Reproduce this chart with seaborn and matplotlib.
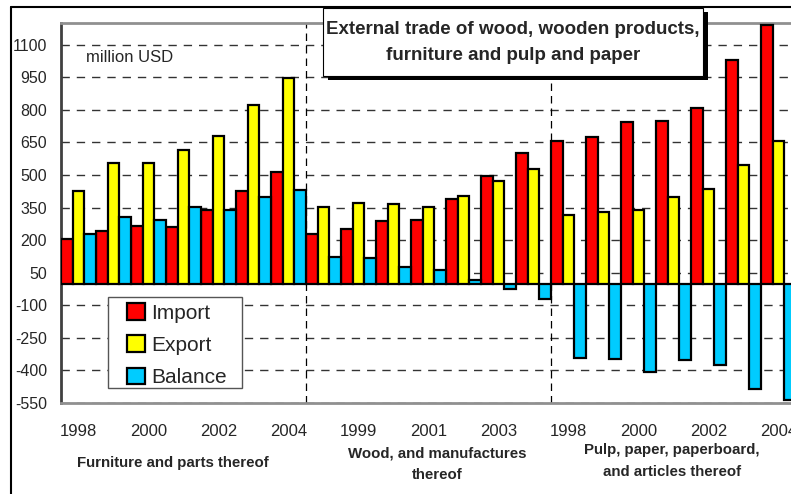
import matplotlib
matplotlib.use("Agg")
import matplotlib.pyplot as plt
from matplotlib.patches import Rectangle
from matplotlib.lines import Line2D
import seaborn as sns
import pandas as pd

# ---------------- data ----------------
groups = ["Furniture", "Wood", "Pulp"]
group_labels = ["Furniture and parts thereof",
                "Wood, and manufactures\nthereof",
                "Pulp, paper, paperboard,\nand articles thereof"]
years = [1998, 1999, 2000, 2001, 2002, 2003, 2004]
series = ["Import", "Export", "Balance"]

furn_import = [203, 243, 264, 261, 341, 425, 512]
furn_export = [427, 554, 557, 617, 680, 823, 947]
furn_balance = [226, 307, 292, 352, 337, 397, 432]

wood_import = [227, 251, 288, 291, 388, 495, 600]
wood_export = [351, 369, 365, 354, 403, 472, 529]
wood_balance = [122, 117, 77, 62, 15, -25, -73]

pulp_import = [657, 675, 743, 750, 808, 1031, 1192]
pulp_export = [318, 329, 341, 400, 434, 546, 657]
pulp_balance = [-341, -347, -405, -351, -374, -486, -537]

yticks = [-550, -400, -250, -100, 50, 200, 350, 500, 650, 800, 950, 1100]
colors = {"Import": "#FF0000", "Export": "#FFFF00", "Balance": "#00CCFF"}

# ---------------- build table ----------------
values = {
    "Furniture": (furn_import, furn_export, furn_balance),
    "Wood": (wood_import, wood_export, wood_balance),
    "Pulp": (pulp_import, pulp_export, pulp_balance),
}
rows = []
order = []
tick_years = []
for g in groups:
    for i, y in enumerate(years):
        key = f"{g} {y}"
        order.append(key)
        tick_years.append(str(y))
        for s, vals in zip(series, values[g]):
            rows.append({"cat": key, "series": s, "value": vals[i]})
df = pd.DataFrame(rows)

# ---------------- plot ----------------
sns.set_theme(style="white")
plt.rcParams["font.family"] = ["Liberation Sans", "DejaVu Sans"]

W, H = 791, 494
fig = plt.figure(figsize=(W / 100, H / 100), dpi=100)
fig.patch.set_facecolor("white")

ax_left, ax_right, ax_top, ax_bot = 61, 796, 23, 403
AW, AH = ax_right - ax_left, ax_bot - ax_top
ax = fig.add_axes([ax_left / W, 1 - ax_bot / H, AW / W, AH / H])

def px2ax(x, y):
    return (x - ax_left) / AW, 1 - (y - ax_top) / AH

sns.barplot(data=df, x="cat", y="value", hue="series", order=order,
            hue_order=series, palette=colors, width=1.0, gap=0,
            edgecolor="black", linewidth=1.6, saturation=1, ax=ax, zorder=3)

ax.set_xlim(-0.5, len(order) - 0.5)
ax.set_ylim(-550, 1200)
ax.set_yticks(yticks)
ax.set_yticklabels([str(t) for t in yticks], fontsize=11.5)
ax.tick_params(axis="y", direction="inout", length=12, width=1.2, color="black", pad=4)

tick_pos = list(range(0, len(order), 2))
ax.set_xticks(tick_pos)
ax.set_xticklabels([tick_years[i] for i in tick_pos], fontsize=12)
ax.tick_params(axis="x", length=0, pad=15)
ax.set_xlabel("")
ax.set_ylabel("")

# grid
for t in yticks:
    ax.axhline(t, color="#333333", lw=1.0, ls=(0, (6, 5)), zorder=1)
for sep in (6.5, 13.5):
    ax.axvline(sep, color="black", lw=0.9, ls=(0, (6, 4)), zorder=1)

for side in ("top", "bottom"):
    ax.spines[side].set_color("#909090")
    ax.spines[side].set_linewidth(2)
ax.spines["left"].set_color("#404040")
ax.spines["left"].set_linewidth(2)
ax.spines["right"].set_visible(False)

# legend (frame drawn separately)
lx0, ly0 = px2ax(108, 297)
lx1, ly1 = px2ax(242, 388)
ax.add_patch(Rectangle((lx0, ly1), lx1 - lx0, ly0 - ly1, transform=ax.transAxes,
                       facecolor="white", edgecolor="#555555", lw=1.0, zorder=5))
handles, labels = ax.get_legend_handles_labels()
leg = ax.legend(handles, labels, loc="upper left",
                bbox_to_anchor=px2ax(127, 303),
                fontsize=15, frameon=False,
                handlelength=0.85, handleheight=0.85, handletextpad=0.3,
                labelspacing=0.62, borderpad=0, borderaxespad=0)
leg.set_zorder(6)

# unit label
ax.text(0.21, 1040, "million USD", fontsize=12, va="center", ha="left")

# group labels
xtr = ax.get_xaxis_transform()
group_x = [2.7, 10.24, 16.96]
group_y = [-0.158, -0.161, -0.153]
for gx, gy, lab in zip(group_x, group_y, group_labels):
    ax.text(gx, gy, lab, transform=xtr, ha="center", va="center",
            fontsize=10.8, fontweight="bold", linespacing=1.7)

# outer frame
fig.add_artist(Line2D([11 / W, 11 / W], [0, 1 - 7 / H], color="black", lw=1.5))
fig.add_artist(Line2D([11 / W, 1], [1 - 7 / H, 1 - 7 / H], color="black", lw=1.5))

# title box with shadow
bx0, bx1, by0, by1 = 323, 703, 8, 76
fig.add_artist(Rectangle(((bx0 + 5) / W, 1 - (by1 + 4) / H), (bx1 - bx0) / W, (by1 - by0) / H,
                         facecolor="black", edgecolor="black", lw=0, zorder=10))
fig.add_artist(Rectangle((bx0 / W, 1 - by1 / H), (bx1 - bx0) / W, (by1 - by0) / H,
                         facecolor="white", edgecolor="black", lw=0.8, zorder=11))
fig.text((bx0 + bx1) / 2 / W, 1 - (by0 + by1 + 1) / 2 / H,
         "External trade of wood, wooden products,\nfurniture and pulp and paper",
         ha="center", va="center", fontsize=13.5, fontweight="bold", linespacing=1.75, zorder=12)

fig.savefig("out.png", dpi=100)
